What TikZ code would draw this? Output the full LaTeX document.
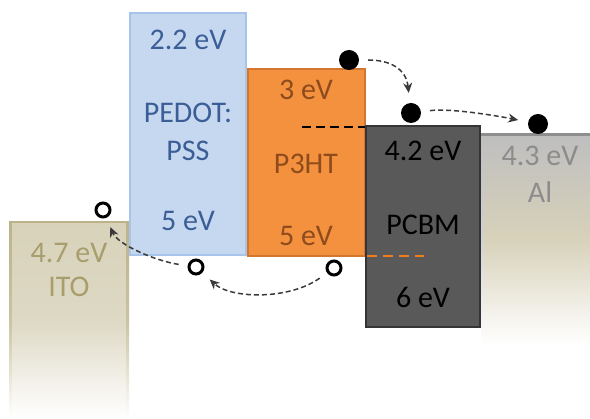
\documentclass[tikz,border=0pt]{standalone}
\usepackage{fontspec}
\setmainfont{Carlito}
\usetikzlibrary{arrows.meta}

\definecolor{itotan}{HTML}{D8D2BA}
\definecolor{itoedge}{HTML}{BDB38A}
\definecolor{itotext}{HTML}{A79D6D}
\definecolor{pedotfill}{HTML}{C5D8F0}
\definecolor{pedotedge}{HTML}{A7C5EA}
\definecolor{pedottext}{HTML}{3B5E96}
\definecolor{ptfill}{HTML}{F4913F}
\definecolor{ptedge}{HTML}{D27630}
\definecolor{pttext}{HTML}{8E4B1C}
\definecolor{ptdash}{HTML}{EE7D1E}
\definecolor{pcbmfill}{HTML}{595959}
\definecolor{pcbmedge}{HTML}{353535}
\definecolor{algray}{HTML}{BEBEBE}
\definecolor{aledge}{HTML}{8E8E8E}
\definecolor{altext}{HTML}{8C8C8C}
\definecolor{hopgray}{HTML}{3A3A3A}

\begin{document}
\begin{tikzpicture}[x=1pt, y=-1pt, >={Stealth[length=10pt, width=9pt]}, font=\fontsize{30}{35}\selectfont,
		electron/.style={circle, fill=black, inner sep=0pt, minimum size=20pt},
		hole/.style={circle, draw=black, line width=3pt, fill=white, inner sep=0pt, minimum size=14pt},
		hop/.style={->, draw=hopgray, line width=1.5pt, dash pattern=on 5pt off 3pt, shorten <=9pt, shorten >=10pt}]
	\useasboundingbox (0,0) rectangle (590,419);

	% ITO, fading out towards the bottom
	\shade[top color=itotan, bottom color=white, middle color=itotan!85] (10,222) rectangle (128,419);
	\shade[top color=itoedge, bottom color=white, middle color=itoedge!80] (9,222) rectangle (11.5,419);
	\shade[top color=itoedge, bottom color=white, middle color=itoedge!80] (126.5,222) rectangle (129,419);
	\draw[itoedge, line width=2.5pt] (9,222) -- (129,222);

	% organic layers
	\draw[fill=pedotfill, draw=pedotedge, line width=2.5pt] (130,13) rectangle (246,255);
	\draw[fill=ptfill, draw=ptedge, line width=2pt] (248,69) rectangle (365,256);
	\draw[fill=pcbmfill, draw=pcbmedge, line width=2.5pt] (366,126) rectangle (480,327);

	% Al contact
	\shade[top color=algray, bottom color=white, middle color=itotan] (482,135) rectangle (590,345);
	\shade[top color=algray, bottom color=white, middle color=algray!70] (481,135) rectangle (483.5,345);
	\draw[aledge, line width=3pt] (481,135) -- (590,135);

	% LUMO of P3HT and HOMO of PCBM
	\draw[line width=2pt, dash pattern=on 9pt off 5pt] (302,127) -- (365,127);
	\draw[ptdash, line width=2pt, dash pattern=on 10pt off 6pt] (367,256) -- (424,256);

	\node[text=itotext] (itoLevel) at (69,253) {4.7 eV};
	\node[text=itotext] (itoName) at (69,287) {ITO};
	\node[text=pedottext] (pedotLumo) at (188,40) {2.2 eV};
	\node[text=pedottext] (pedotName) at (188,113) {PEDOT:};
	\node[text=pedottext] (pedotName2) at (188,151) {PSS};
	\node[text=pedottext] (pedotHomo) at (188,221) {5 eV};
	\node[text=pttext] (ptLumo) at (306,90) {3 eV};
	\node[text=pttext] (ptName) at (306,164) {P3HT};
	\node[text=pttext] (ptHomo) at (306,236) {5 eV};
	\node[text=black] (pcbmLumo) at (423,151) {4.2 eV};
	\node[text=black] (pcbmName) at (423,225) {PCBM};
	\node[text=black] (pcbmHomo) at (423,297) {6 eV};
	\node[text=altext] (alLevel) at (540,156) {4.3 eV};
	\node[text=altext] (alName) at (540,192) {Al};

	% charges
	\node[electron] (e1) at (349,60) {};
	\node[electron] (e2) at (411,113) {};
	\node[electron] (e3) at (538,124) {};
	\node[hole] (h0) at (103,210) {};
	\node[hole] (h1) at (196,267) {};
	\node[hole] (h2) at (334,268) {};

	\draw[hop] (e1) .. controls +(40,0) and +(-5,-45) .. (e2);
	\draw[hop] (e2) .. controls +(40,-5) and +(-40,-8) .. (e3);
	\draw[hop] (h2) .. controls +(-45,32) and +(35,32) .. (h1);
	\draw[hop] (h1) .. controls +(-40,-6) and +(15,35) .. (h0);
\end{tikzpicture}
\end{document}
